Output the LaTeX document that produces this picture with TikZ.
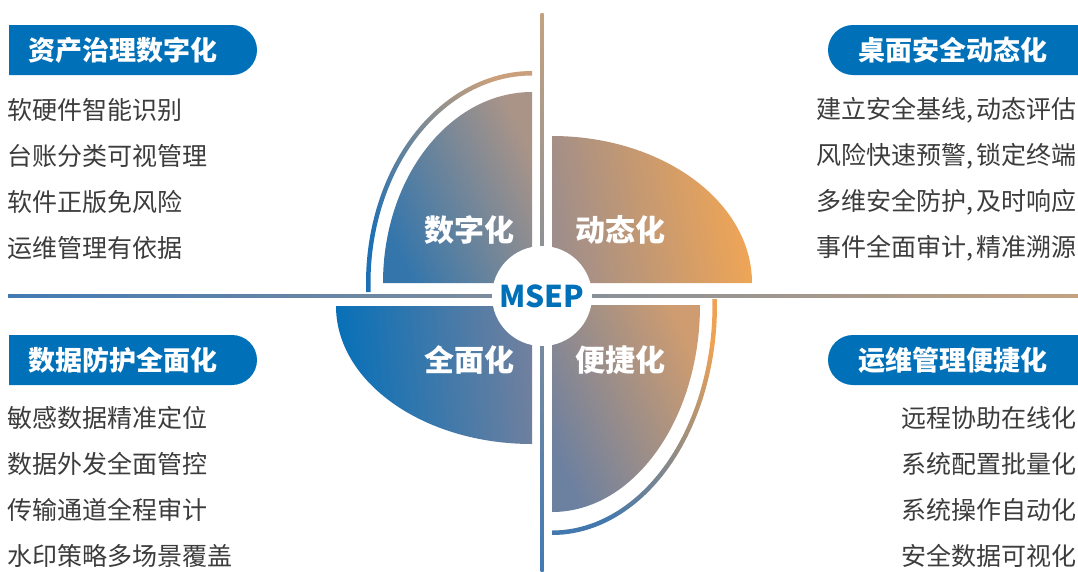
\documentclass[tikz,border=0pt]{standalone}
\usepackage{fontspec}
\setmainfont{Noto Sans CJK SC}
\definecolor{msepblue}{RGB}{0,112,184}
\definecolor{itemgray}{RGB}{60,60,60}
\definecolor{linetan}{RGB}{196,162,128}
\definecolor{lineblue}{RGB}{66,122,180}
\tikzset{
  pill/.style = {fill = msepblue, draw = none},
  pilltext/.style = {text = white, inner sep = 0pt, font = \fontsize{27}{30}\selectfont\bfseries},
  itemtext/.style = {text = itemgray, inner sep = 0pt, font = \fontsize{25}{28}\selectfont},
  petaltext/.style = {text = white, inner sep = 0pt, font = \fontsize{30}{32}\selectfont\bfseries},
  hub/.style = {circle, fill = white, inner sep = 0pt, minimum size = 100pt, text = msepblue, font = \fontsize{30}{32}\selectfont\bfseries}
}
\begin{document}
\begin{tikzpicture}[x = 1pt, y = -1pt]
\useasboundingbox (0,0) rectangle (1078,571);
\pgfmathsetmacro\rowgap{46}
\definecolor{lowcolor}{RGB}{52,118,172}
\definecolor{highcolor}{RGB}{170,148,136}
\shade [left color = lowcolor, right color = highcolor, shading angle = 115] (532,92) arc[start angle = 90, end angle = 180, x radius = 149pt, y radius = 191pt] -- (532,283) -- cycle;
\definecolor{lowcolor}{RGB}{30,112,180}
\definecolor{highcolor}{RGB}{202,160,124}
\shade [left color = lowcolor, right color = highcolor, shading angle = 125] (532,71) arc[start angle = 90, end angle = 182.5, x radius = 166pt, y radius = 212pt] -- ([shift = {(532,283)}] 182.5:161.5pt and 207.5pt) arc[start angle = 182.5, end angle = 90, x radius = 161.5pt, y radius = 207.5pt] -- cycle;
\definecolor{lowcolor}{RGB}{160,142,138}
\definecolor{highcolor}{RGB}{242,166,84}
\shade [left color = lowcolor, right color = highcolor, shading angle = 100] (752,283) arc[start angle = 0, end angle = 90, x radius = 200pt, y radius = 147pt] -- (552,283) -- cycle;
\definecolor{lowcolor}{RGB}{6,112,184}
\definecolor{highcolor}{RGB}{112,128,158}
\shade [left color = lowcolor, right color = highcolor, shading angle = 95] (336,306) arc[start angle = 180, end angle = 270, x radius = 196pt, y radius = 138pt] -- (532,306) -- cycle;
\definecolor{lowcolor}{RGB}{108,128,160}
\definecolor{highcolor}{RGB}{206,156,112}
\shade [left color = lowcolor, right color = highcolor, shading angle = 115] (552,512) arc[start angle = 270, end angle = 360, x radius = 148pt, y radius = 207pt] -- (552,305) -- cycle;
\definecolor{lowcolor}{RGB}{66,120,174}
\definecolor{highcolor}{RGB}{238,162,84}
\shade [left color = lowcolor, right color = highcolor, shading angle = 145] (552,535) arc[start angle = 270, end angle = 361.5, x radius = 165pt, y radius = 230pt] -- ([shift = {(552,305)}] 361.5:160.5pt and 225.5pt) arc[start angle = 361.5, end angle = 270, x radius = 160.5pt, y radius = 225.5pt] -- cycle;
\shade [left color = lineblue, right color = linetan] (8,294.5) rectangle (1078,297.5);
\shade [top color = linetan, bottom color = lineblue] (540.5,13) rectangle (543.5,571);
\node [hub] (msep) at (542,296) {MSEP};
\node [petaltext] (digital) at (469,230) {数字化};
\node [petaltext] (dynamic) at (620,230) {动态化};
\node [petaltext] (overall) at (469,360) {全面化};
\node [petaltext] (handy) at (620,360) {便捷化};
\draw [pill] (9,25) -- (232,25) arc[start angle = 90, end angle = -90, radius = 25pt] -- (9,75) -- cycle;
\draw [pill] (9,335) -- (232,335) arc[start angle = 90, end angle = -90, radius = 25pt] -- (9,385) -- cycle;
\draw [pill] (1078,25) -- (853,25) arc[start angle = 90, end angle = 270, radius = 25pt] -- (1078,75) -- cycle;
\draw [pill] (1078,335) -- (853,335) arc[start angle = 90, end angle = 270, radius = 25pt] -- (1078,385) -- cycle;
\node [pilltext] (assets) at (123,50) {资产治理数字化};
\node [pilltext] (desktop) at (953,50) {桌面安全动态化};
\node [pilltext] (dataprot) at (123,360) {数据防护全面化};
\node [pilltext] (opsmgmt) at (953,360) {运维管理便捷化};
\foreach \t [count = \i] in {软硬件智能识别, 台账分类可视管理, 软件正版免风险, 运维管理有依据}
  \node [itemtext, anchor = west] (tl\i) at (7,{110+\rowgap*(\i-1)}) {\t};
\foreach \t [count = \i] in {敏感数据精准定位, 数据外发全面管控, 传输通道全程审计, 水印策略多场景覆盖}
  \node [itemtext, anchor = west] (bl\i) at (7,{418+\rowgap*(\i-1)}) {\t};
\foreach \t [count = \i] in {{建立安全基线,\kern3pt动态评估}, {风险快速预警,\kern3pt锁定终端}, {多维安全防护,\kern3pt及时响应}, {事件全面审计,\kern3pt精准溯源}}
  \node [itemtext, anchor = east] (tr\i) at (1077,{110+\rowgap*(\i-1)}) {\t};
\foreach \t [count = \i] in {远程协助在线化, 系统配置批量化, 系统操作自动化, 安全数据可视化}
  \node [itemtext, anchor = east] (br\i) at (1077,{418+\rowgap*(\i-1)}) {\t};
\end{tikzpicture}
\end{document}
